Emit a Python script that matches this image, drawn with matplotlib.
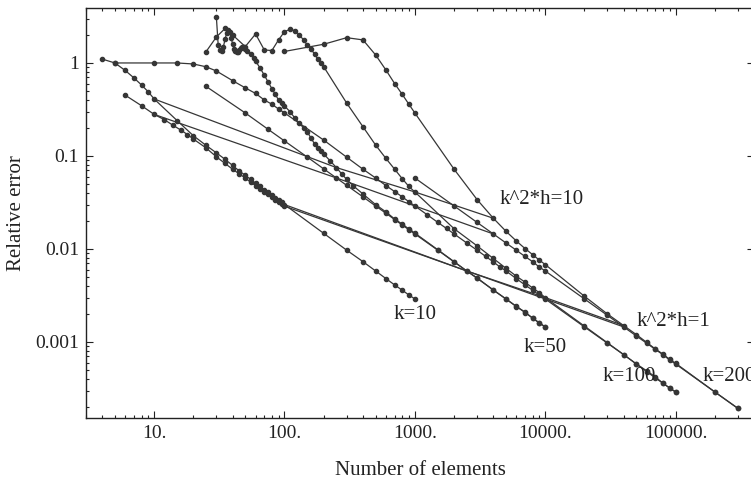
import matplotlib
matplotlib.use("Agg")
import matplotlib.pyplot as plt
from matplotlib.ticker import FixedLocator, FixedFormatter, NullFormatter

plt.rcParams['font.family'] = ['Liberation Serif', 'DejaVu Serif']

# ---------------- data ----------------
k10_fem_n = [4, 5, 6, 7, 8, 9, 10, 15, 20, 25, 30, 35, 40, 45, 50, 55, 60, 65, 70, 75, 80, 85, 90, 95, 100,
             200, 300, 400, 500, 600, 700, 800, 900, 1000]
k10_fem_e = [1.1, 1.0, 0.83, 0.69, 0.58, 0.49, 0.41, 0.24, 0.165, 0.13, 0.108, 0.092, 0.079, 0.069, 0.062,
             0.056, 0.051, 0.047, 0.043, 0.0405, 0.0378, 0.0355, 0.0334, 0.0316, 0.0300,
             0.0147, 0.0097, 0.0073, 0.0058, 0.0048, 0.0041, 0.0036, 0.0032, 0.0029]

k10_ba_n = [6, 8, 10, 12, 14, 16, 18, 20, 25, 30, 35, 40, 45, 50, 55, 60, 65, 70, 75, 80, 85, 90, 95, 100]
k10_ba_e = [0.45, 0.347, 0.28, 0.245, 0.213, 0.19, 0.17, 0.152, 0.122, 0.098, 0.083, 0.072, 0.064, 0.058,
            0.052, 0.048, 0.044, 0.041, 0.0385, 0.036, 0.034, 0.032, 0.0303, 0.0288]

k50_ba_n = [25, 50, 75, 100, 150, 200, 250, 300, 400, 500, 600, 700, 800, 900, 1000, 1500, 2000, 2500,
            3000, 4000, 5000, 6000, 7000, 8000, 9000, 10000]
k50_ba_e = [0.56, 0.29, 0.193, 0.145, 0.097, 0.0725, 0.058, 0.0483, 0.0363, 0.029, 0.0242, 0.0207, 0.0181,
            0.0161, 0.0145, 0.0097, 0.00725, 0.0058, 0.00483, 0.00363, 0.0029, 0.00242, 0.00207, 0.00181,
            0.00161, 0.00145]

k50_fem_n = [30, 31, 32, 33, 34, 35, 36, 37, 38, 39, 40, 41, 42, 43, 44, 45, 46, 47, 48, 49, 50, 52, 55, 58,
             60, 65, 70, 75, 80, 85, 90, 95, 100, 110, 120, 130, 140, 150, 160, 170, 180, 190, 200, 225, 250,
             275, 300, 335, 400, 500, 600, 700, 800, 900, 1000, 1500, 2000, 2500, 3000, 4000, 5000, 6000,
             7000, 8000, 9000, 10000]
k50_fem_e = [3.15, 1.55, 1.38, 1.35, 1.5, 1.8, 2.1, 2.25, 2.15, 1.85, 1.6, 1.42, 1.33, 1.3, 1.32, 1.38, 1.45,
             1.5, 1.5, 1.47, 1.42, 1.35, 1.25, 1.12, 1.05, 0.88, 0.74, 0.62, 0.53, 0.46, 0.40, 0.37, 0.345,
             0.30, 0.256, 0.225, 0.2, 0.18, 0.155, 0.135, 0.122, 0.113, 0.105, 0.088, 0.075, 0.064, 0.056,
             0.048, 0.039, 0.030, 0.025, 0.021, 0.0185, 0.0164, 0.0148, 0.0098, 0.0073, 0.0058, 0.0049,
             0.0036, 0.0029, 0.0024, 0.0021, 0.0018, 0.0016, 0.00145]

k100_fem_n = [25, 30, 35, 40, 50, 60, 70, 80, 90, 100, 110, 120, 130, 140, 150, 160, 170, 180, 190, 200,
              300, 400, 500, 600, 700, 800, 900, 1000, 2000, 3000, 4000, 5000, 6000, 7000, 8000, 9000, 10000,
              20000, 30000, 40000, 50000, 60000, 70000, 80000, 90000, 100000]
k100_fem_e = [1.32, 1.9, 2.35, 2.0, 1.5, 2.05, 1.38, 1.36, 1.77, 2.17, 2.3, 2.23, 2.0, 1.77, 1.55, 1.4, 1.25,
              1.1, 1.0, 0.91, 0.37, 0.206, 0.131, 0.094, 0.072, 0.057, 0.047, 0.041, 0.0165, 0.0108, 0.0079,
              0.0062, 0.0051, 0.0044, 0.0038, 0.0034, 0.0030, 0.00148, 0.00098, 0.00073, 0.00058, 0.00049,
              0.00042, 0.00036, 0.00032, 0.00029]

k100_ba_n = [5, 10, 15, 20, 25, 30, 40, 50, 60, 70, 80, 90, 100, 200, 300, 400, 500, 600, 700, 800, 900, 1000,
             1250, 1500, 1750, 2000, 2500, 3000, 3500, 4000, 4500, 5000, 6000, 7000, 8000, 9000, 10000,
             20000, 30000, 40000, 50000, 60000, 70000, 80000, 90000, 100000]
k100_ba_e = [1.0, 1.0, 1.0, 0.975, 0.91, 0.82, 0.645, 0.54, 0.47, 0.40, 0.36, 0.32, 0.29, 0.148, 0.097, 0.072,
             0.058, 0.048, 0.0414, 0.0363, 0.0322, 0.029, 0.0232, 0.0193, 0.0166, 0.0145, 0.0116, 0.0097,
             0.0083, 0.00725, 0.0064, 0.0058, 0.0048, 0.0041, 0.0036, 0.0032, 0.0029, 0.00145, 0.00097,
             0.00073, 0.00058, 0.00048, 0.00041, 0.00036, 0.00032, 0.00029]

k200_fem_n = [100, 200, 300, 400, 500, 600, 700, 800, 900, 1000, 2000, 3000, 4000, 5000, 6000, 7000, 8000,
              9000, 10000, 20000, 30000, 40000, 50000, 60000, 70000, 80000, 90000, 100000, 200000, 300000]
k200_fem_e = [1.33, 1.59, 1.87, 1.77, 1.22, 0.84, 0.6, 0.46, 0.36, 0.29, 0.072, 0.034, 0.0214, 0.0155,
              0.0122, 0.0101, 0.0087, 0.0076, 0.0068, 0.0031, 0.002, 0.0015, 0.0012, 0.00099, 0.00084,
              0.00074, 0.00065, 0.00059, 0.00029, 0.000194]

k200_ba_n = [1000, 2000, 3000, 4000, 5000, 6000, 7000, 8000, 9000, 10000, 20000, 30000, 40000, 50000, 60000,
             70000, 80000, 90000, 100000, 200000, 300000]
k200_ba_e = [0.058, 0.029, 0.0193, 0.0145, 0.0116, 0.0097, 0.0083, 0.0073, 0.0064, 0.0058, 0.0029, 0.00193,
             0.00145, 0.00116, 0.00097, 0.00083, 0.00073, 0.00064, 0.00058, 0.00029, 0.000193]

# constant k^2*h lines
kh10_n = [10, 250, 1000, 4000]
kh10_fem_e = [0.41, 0.075, 0.041, 0.0214]
kh10_ba_e = [0.28, 0.058, 0.029, 0.0145]
kh1_n = [100, 2500, 10000, 40000]
kh1_fem_e = [0.030, 0.0058, 0.0030, 0.0015]
kh1_ba_e = [0.0288, 0.0058, 0.0029, 0.00145]

x_ticks = [10, 100, 1000, 10000, 100000]
x_tick_labels = ["10.", "100.", "1000.", "10000.", "100000."]
y_ticks = [0.001, 0.01, 0.1, 1]
y_tick_labels = ["0.001", "0.01", "0.1", "1"]

labels = ["k=10", "k=50", "k=100", "k=200", "k^2*h=1", "k^2*h=10"]
label_pos = [(1000, 0.00195, 'center'), (10000, 0.00088, 'center'), (44500, 0.00042, 'center'),
             (161000, 0.00042, 'left'), (50200, 0.00164, 'left'), (4480, 0.0336, 'left')]

# ---------------- figure ----------------
W, H = 751, 482
fig = plt.figure(figsize=(W / 100, H / 100), dpi=100)
ax = fig.add_axes([86 / W, 64 / H, 668 / W, 410 / H])

col = '#363636'
curves = [(k10_fem_n, k10_fem_e), (k10_ba_n, k10_ba_e), (k50_ba_n, k50_ba_e), (k50_fem_n, k50_fem_e),
          (k100_fem_n, k100_fem_e), (k100_ba_n, k100_ba_e), (k200_fem_n, k200_fem_e), (k200_ba_n, k200_ba_e)]
for n, e in curves:
    ax.plot(n, e, '-', color=col, lw=0.9, marker='o', ms=3.0, mec=col, mfc=col)

for n, e in [(kh10_n, kh10_fem_e), (kh10_n, kh10_ba_e), (kh1_n, kh1_fem_e), (kh1_n, kh1_ba_e)]:
    ax.plot(n, e, '-', color=col, lw=0.9)

ax.set_xscale('log')
ax.set_yscale('log')
ax.set_xlim(3, 4.0e5)
ax.set_ylim(1.52e-4, 3.9)

ax.xaxis.set_major_locator(FixedLocator(x_ticks))
ax.xaxis.set_major_formatter(FixedFormatter(x_tick_labels))
ax.yaxis.set_major_locator(FixedLocator(y_ticks))
ax.yaxis.set_major_formatter(FixedFormatter(y_tick_labels))
ax.xaxis.set_minor_formatter(NullFormatter())
ax.yaxis.set_minor_formatter(NullFormatter())

ax.tick_params(which='both', direction='in', top=True, right=True, color='#222222', width=0.8)
ax.tick_params(which='major', length=5, labelsize=14, colors='#222222', pad=5)
ax.tick_params(which='minor', length=2.5)
for s in ax.spines.values():
    s.set_color('#222222')
    s.set_linewidth(1.0)

ax.set_xlabel("Number of elements", fontsize=15, color='#222222')
ax.xaxis.set_label_coords(0.5, -0.105)
ax.xaxis.label.set_va('top')
ax.set_ylabel("Relative error", fontsize=15, color='#222222')
ax.yaxis.set_label_coords(-0.09, 0.5)

for t, (x, y, ha) in zip(labels, label_pos):
    ax.text(x, y, t, fontsize=15, ha=ha, va='center', color='#222222')

fig.savefig("out.png", dpi=100, facecolor='white')
